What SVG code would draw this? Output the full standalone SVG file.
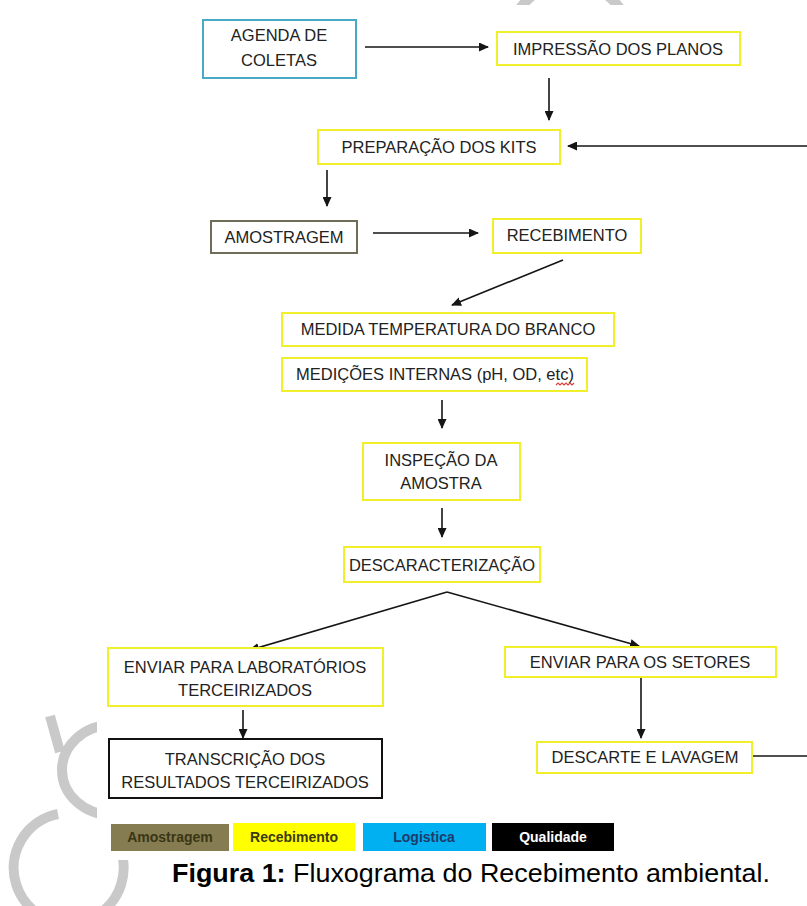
<svg xmlns="http://www.w3.org/2000/svg" width="807" height="906" viewBox="0 0 807 906">
<style>
.bx{fill:#ffffff;stroke-width:2}
.y{stroke:#f0ef2a}
.t{font-family:"Liberation Sans",Arial,sans-serif;font-size:16.5px;fill:#222222;text-anchor:middle}
.c{stroke:#151515;stroke-width:1.6;fill:none}
.wm{fill:none;stroke:#c9c9c9;stroke-width:10}
.lg{font-family:"Liberation Sans",Arial,sans-serif;font-size:14px;font-weight:bold;text-anchor:middle}
</style>
<defs>
<marker id="ah" markerUnits="userSpaceOnUse" markerWidth="10" markerHeight="9" refX="9" refY="4.5" orient="auto">
<path d="M0,0 L10,4.5 L0,9 Z" fill="#151515"/>
</marker>
</defs>
<rect width="807" height="906" fill="#ffffff"/>
<g id="watermark">
<circle class="wm" cx="570" cy="45" r="62" stroke-width="12"/>
<path class="wm" d="M50 716 L60 752" stroke-width="8"/>
<ellipse class="wm" cx="112" cy="770" rx="50" ry="45"/>
<path class="wm" d="M58 814 A55 55 0 1 0 116 840" stroke-width="11"/>
<rect x="97" y="5" width="710" height="855" fill="#ffffff"/>
</g>
<g id="connectors">
<line class="c" x1="365" y1="47" x2="488" y2="47" marker-end="url(#ah)"/>
<line class="c" x1="549" y1="78" x2="549" y2="120" marker-end="url(#ah)"/>
<line class="c" x1="807" y1="146" x2="568" y2="146" marker-end="url(#ah)"/>
<line class="c" x1="327" y1="170" x2="327" y2="206" marker-end="url(#ah)"/>
<line class="c" x1="373" y1="233" x2="478" y2="233" marker-end="url(#ah)"/>
<line class="c" x1="563" y1="260" x2="452" y2="305" marker-end="url(#ah)"/>
<line class="c" x1="442" y1="400" x2="442" y2="428" marker-end="url(#ah)"/>
<line class="c" x1="442" y1="508" x2="442" y2="537" marker-end="url(#ah)"/>
<line class="c" x1="447" y1="592" x2="250" y2="650" marker-end="url(#ah)"/>
<line class="c" x1="447" y1="592" x2="639" y2="646" marker-end="url(#ah)"/>
<line class="c" x1="243" y1="710" x2="243" y2="738" marker-end="url(#ah)"/>
<line class="c" x1="641" y1="678" x2="641" y2="738" marker-end="url(#ah)"/>
<line class="c" x1="752" y1="756" x2="807" y2="756"/>
</g>
<g id="agenda">
<rect class="bx" x="203" y="20" width="153" height="58" stroke="#4aa9c4"/>
<text class="t" x="279" y="41">AGENDA DE</text>
<text class="t" x="279" y="66">COLETAS</text>
</g>
<g id="impressao">
<rect class="bx y" x="497" y="32" width="243" height="33"/>
<text class="t" x="618" y="55">IMPRESSÃO DOS PLANOS</text>
</g>
<g id="preparacao">
<rect class="bx y" x="318" y="130" width="242" height="34"/>
<text class="t" x="439" y="153">PREPARAÇÃO DOS KITS</text>
</g>
<g id="amostragem">
<rect class="bx" x="211" y="221" width="146" height="32" stroke="#6f6d58"/>
<text class="t" x="284" y="243">AMOSTRAGEM</text>
</g>
<g id="recebimento">
<rect class="bx y" x="493" y="219" width="148" height="34"/>
<text class="t" x="567" y="241">RECEBIMENTO</text>
</g>
<g id="medida">
<rect class="bx y" x="282" y="313" width="332" height="33"/>
<text class="t" x="448" y="335">MEDIDA TEMPERATURA DO BRANCO</text>
</g>
<g id="medicoes">
<rect class="bx y" x="282" y="358" width="305" height="33"/>
<text class="t" x="435" y="380">MEDIÇÕES INTERNAS (pH, OD, etc)</text>
<path d="M556 385 l2 -2 l2 2 l2 -2 l2 2 l2 -2 l2 2 l2 -2 l2 2 l2 -2" fill="none" stroke="#e0403a" stroke-width="1.2"/>
</g>
<g id="inspecao">
<rect class="bx y" x="363" y="443" width="157" height="57"/>
<text class="t" x="441" y="466">INSPEÇÃO DA</text>
<text class="t" x="441" y="489">AMOSTRA</text>
</g>
<g id="descaracterizacao">
<rect class="bx y" x="344" y="547" width="196" height="35"/>
<text class="t" x="442" y="571">DESCARACTERIZAÇÃO</text>
</g>
<g id="enviar-laboratorios">
<rect class="bx y" x="108" y="648" width="275" height="58"/>
<text class="t" x="245" y="673">ENVIAR PARA LABORATÓRIOS</text>
<text class="t" x="245" y="696">TERCEIRIZADOS</text>
</g>
<g id="transcricao">
<rect class="bx" x="109" y="739" width="273" height="59" stroke="#111111"/>
<text class="t" x="245" y="765">TRANSCRIÇÃO DOS</text>
<text class="t" x="245" y="788">RESULTADOS TERCEIRIZADOS</text>
</g>
<g id="enviar-setores">
<rect class="bx y" x="505" y="647" width="271" height="30"/>
<text class="t" x="640" y="668">ENVIAR PARA OS SETORES</text>
</g>
<g id="descarte">
<rect class="bx y" x="537" y="742" width="215" height="31"/>
<text class="t" x="645" y="763">DESCARTE E LAVAGEM</text>
</g>
<g id="legend">
<rect x="111" y="824" width="118" height="27" fill="#857d51"/>
<text class="lg" x="170" y="842" fill="#3a3514">Amostragem</text>
<rect x="233" y="823" width="122" height="28" fill="#ffff00"/>
<text class="lg" x="294" y="842" fill="#3a3a10">Recebimento</text>
<rect x="363" y="823" width="123" height="28" fill="#00b0f0"/>
<text class="lg" x="424" y="842" fill="#1f3a6a">Logistica</text>
<rect x="492" y="823" width="122" height="28" fill="#000000"/>
<text class="lg" x="553" y="842" fill="#ffffff">Qualidade</text>
</g>
<g id="caption">
<text x="172" y="882" font-family="Liberation Sans, Arial, sans-serif" font-size="26" fill="#000000" textLength="598" lengthAdjust="spacingAndGlyphs"><tspan font-weight="bold">Figura 1:</tspan> Fluxograma do Recebimento ambiental.</text>
</g>
</svg>
